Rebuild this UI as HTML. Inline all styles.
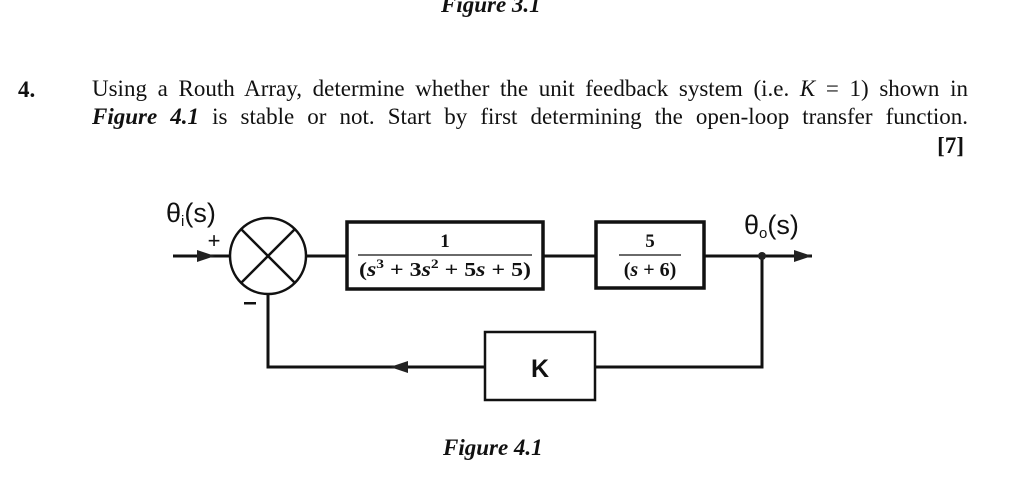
<!DOCTYPE html>
<html><head><meta charset="utf-8"><style>
html,body{margin:0;padding:0;background:#fff;}
svg{display:block;position:absolute;left:0;top:0;}
.ln{position:absolute;left:92px;width:876px;font-family:"Liberation Serif",serif;font-size:23px;color:#111;text-align:justify;text-align-last:justify;white-space:nowrap;line-height:28px;}
</style></head><body>
<div class="ln" style="top:75px;">Using a Routh Array, determine whether the unit feedback system (i.e. <i>K</i> = 1) shown in</div>
<div class="ln" style="top:103px;"><b><i>Figure 4.1</i></b> is stable or not. Start by first determining the open-loop transfer function.</div>
<svg width="1018" height="485" viewBox="0 0 1018 485" xmlns="http://www.w3.org/2000/svg">
<g font-family="Liberation Serif, serif" fill="#111">
<text x="441" y="12" font-size="23" font-weight="bold" font-style="italic">Figure 3.1</text>
<text x="18" y="97" font-size="23" font-weight="bold">4.</text>
<text x="964" y="153" font-size="23" font-weight="bold" text-anchor="end">[7]</text>
<text x="443" y="455" font-size="23" font-weight="bold" font-style="italic">Figure 4.1</text>
</g>
<g stroke="#111" fill="none" stroke-width="3">
<line x1="173" y1="256" x2="230" y2="256"/>
<circle cx="268" cy="256" r="38" stroke-width="2.5"/>
<line x1="241" y1="229" x2="295" y2="283" stroke-width="2.5"/>
<line x1="295" y1="229" x2="241" y2="283" stroke-width="2.5"/>
<line x1="306" y1="256" x2="346" y2="256"/>
<rect x="347" y="222" width="196" height="67" stroke-width="3.5"/>
<line x1="543" y1="256" x2="595" y2="256"/>
<rect x="596" y="222" width="108" height="66" stroke-width="3.5"/>
<line x1="704" y1="256" x2="812" y2="256"/>
<polyline points="762,256 762,367 596,367"/>
<rect x="485" y="332" width="110" height="68" stroke-width="2.5"/>
<polyline points="485,367 268,367 268,294"/>
</g>
<g fill="#222">
<polygon points="215,256 197,250 197,262"/>
<polygon points="812,256 794,250 794,262"/>
<polygon points="390,367 408,361 408,373"/>
<circle cx="762" cy="256" r="4"/>
</g>
<g font-family="Liberation Sans, sans-serif" fill="#111">
<text x="166" y="222" font-size="27">θ<tspan font-size="15" dy="4">i</tspan><tspan dy="-4">(s)</tspan></text>
<text x="744" y="234" font-size="27">θ<tspan font-size="15" dy="4">o</tspan><tspan dy="-4">(s)</tspan></text>
<text x="214" y="248" font-size="22" text-anchor="middle">+</text>
<rect x="244" y="302" width="12" height="2.5"/>
<text x="540" y="377" font-size="25" font-weight="bold" text-anchor="middle">K</text>
</g>
<g font-family="Liberation Serif, serif" fill="#111" font-weight="bold">
<text x="445" y="247" font-size="19" text-anchor="middle">1</text>
<line x1="358" y1="255" x2="532" y2="255" stroke="#111" stroke-width="1.2"/>
<text x="445" y="276" font-size="20" text-anchor="middle" textLength="172" lengthAdjust="spacingAndGlyphs">(<tspan font-style="italic">s</tspan><tspan font-size="13" dy="-8">3</tspan><tspan dy="8"> + 3</tspan><tspan font-style="italic">s</tspan><tspan font-size="13" dy="-8">2</tspan><tspan dy="8"> + 5</tspan><tspan font-style="italic">s</tspan> + 5)</text>
<text x="650" y="247" font-size="19" text-anchor="middle">5</text>
<line x1="619" y1="255" x2="681" y2="255" stroke="#111" stroke-width="1.2"/>
<text x="650" y="276" font-size="20" text-anchor="middle">(<tspan font-style="italic">s</tspan> + 6)</text>
</g>
</svg>
</body></html>
